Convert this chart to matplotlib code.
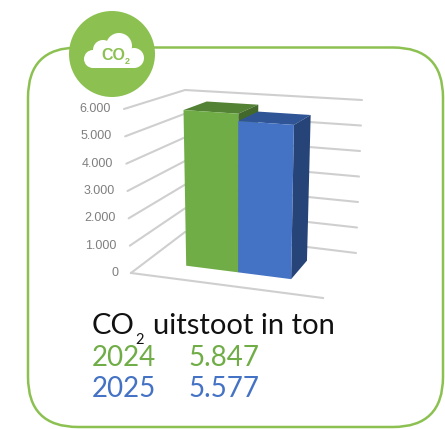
import numpy as np
import matplotlib
matplotlib.use("Agg")
import matplotlib.pyplot as plt
from matplotlib.patches import Circle, FancyBboxPatch, Polygon, Rectangle

# data
years = ["2024", "2025"]
co2_ton = [5847, 5577]
value_labels = ["5.847", "5.577"]
ticks = [0, 1000, 2000, 3000, 4000, 5000, 6000]
tick_labels = ["0", "1.000", "2.000", "3.000", "4.000", "5.000", "6.000"]

GREEN = "#70ad47"
BLUE = "#4472c4"
FRAME = "#8cc152"
GRID = "#cfcfcf"

# box corners in pixels, index = [across][height][depth]
box = np.array([
    [[(131, 273), (185, 232)], [(124, 109), (185, 90)]],
    [[(323, 298), (356, 253)], [(328, 123), (362, 100)]],
], dtype=float)
ymax = 6000


def project(u, value, d):
    # trilinear mapping of chart coordinates to the picture
    v = value / ymax
    p = np.zeros(2)
    for i, wu in enumerate([1 - u, u]):
        for j, wv in enumerate([1 - v, v]):
            for k, wd in enumerate([1 - d, d]):
                p += wu * wv * wd * box[i, j, k]
    return p


fig = plt.figure(figsize=(4.45, 4.29), dpi=100)
ax = fig.add_axes([0, 0, 1, 1])
ax.set_xlim(0, 445)
ax.set_ylim(429, 0)
ax.axis("off")

# frame and logo
ax.add_patch(FancyBboxPatch((28, 47.5), 415, 379.5, boxstyle="round,pad=0,rounding_size=50",
                            fc="white", ec=FRAME, lw=1.8))
ax.add_patch(Circle((112, 54), 43, fc=FRAME, ec="none", zorder=3))
for cx, cy, r in [(93, 59, 9), (103, 50, 10), (119, 46, 13), (134, 58, 10)]:
    ax.add_patch(Circle((cx, cy), r, fc="white", ec="none", zorder=4))
ax.add_patch(Rectangle((93, 50), 41, 18, fc="white", ec="none", zorder=4))
ax.text(101.5, 60.5, "CO", color=FRAME, fontsize=11.5, fontweight="bold", family="Liberation Sans",
        ha="left", va="baseline", zorder=5)
ax.text(125, 63.5, "2", color=FRAME, fontsize=6.5, fontweight="bold", family="Liberation Sans",
        ha="left", va="baseline", zorder=5)

# walls and floor
for t, lab in zip(ticks, tick_labels):
    pts = np.array([project(0, t, 0), project(0, t, 1), project(1, t, 1)])
    ax.plot(pts[:, 0], pts[:, 1], color=GRID, lw=1.5, zorder=1, solid_capstyle="round")
    ax.text(pts[0, 0] - 13, pts[0, 1], lab, color="#7f7f7f", fontsize=9, family="Liberation Sans",
            ha="right", va="center")
front = np.array([project(0, 0, 0), project(1, 0, 0)])
ax.plot(front[:, 0], front[:, 1], color=GRID, lw=1.5, zorder=1)

# bars
edges = [(0.21, 0.49), (0.49, 0.775)]
d0, d1 = 0.3, 0.72
shades = [(GREEN, "#548235", "#43682b"), (BLUE, "#2f5597", "#264478")]
for (u0, u1), val, (c_front, c_top, c_side) in zip(edges, co2_ton, shades):
    top = [project(u0, val, d0), project(u1, val, d0), project(u1, val, d1), project(u0, val, d1)]
    side = [project(u1, 0, d0), project(u1, val, d0), project(u1, val, d1), project(u1, 0, d1)]
    face = [project(u0, 0, d0), project(u1, 0, d0), project(u1, val, d0), project(u0, val, d0)]
    ax.add_patch(Polygon(top, fc=c_top, ec="none", zorder=2))
    ax.add_patch(Polygon(side, fc=c_side, ec="none", zorder=2))
    ax.add_patch(Polygon(face, fc=c_front, ec="none", zorder=2))

# caption
ax.text(92, 334, "CO", color="#111111", fontsize=21, family="Lato", va="baseline")
ax.text(135, 344, "2", color="#111111", fontsize=10.5, family="Lato", va="baseline")
ax.text(153, 334, "uitstoot in ton", color="#111111", fontsize=21, family="Lato", va="baseline")
for y, year, lab, c in zip([366, 397], years, value_labels, [GREEN, BLUE]):
    ax.text(92, y, year, color=c, fontsize=20, family="Lato", va="baseline")
    ax.text(188, y, lab, color=c, fontsize=20, family="Lato", va="baseline")

fig.savefig("out.png", dpi=100)
